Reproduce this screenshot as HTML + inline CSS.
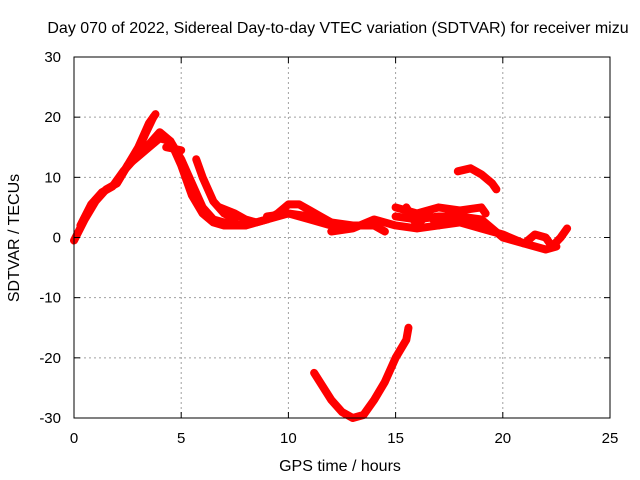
<!DOCTYPE html>
<html><head><meta charset="utf-8"><style>
body{margin:0;background:#fff}
svg{display:block;font-family:"Liberation Sans",sans-serif}
</style></head><body>
<svg id="chart" width="640" height="480" viewBox="0 0 640 480">
<rect width="640" height="480" fill="#fff"/>
<text x="338" y="33" font-size="16" text-anchor="middle">Day 070 of 2022, Sidereal Day-to-day VTEC variation (SDTVAR) for receiver mizu</text>
<text transform="translate(19,238) rotate(-90)" font-size="16" text-anchor="middle">SDTVAR / TECUs</text>
<text x="340" y="471" font-size="16" text-anchor="middle">GPS time / hours</text>
<g id="grid"></g><g id="series"></g><g id="axes"></g>
</svg>
<script>
const xTicks=[0,5,10,15,20,25];
const yTicks=[-30,-20,-10,0,10,20,30];
const trackA=[[0,-0.5],[0.5,3],[1,6],[1.5,8],[2,9],[2.5,12],[3,15],[3.5,19],[3.8,20.5]];
const trackA2=[[0.3,2],[0.8,5.5],[1.3,7.5],[1.8,8.5],[2.3,11],[2.8,13],[3.3,17],[3.7,20]];
const trackB=[[2,9],[2.5,12],[3,14],[3.5,15.5],[4,17.5],[4.5,16],[5,13],[5.5,9],[6,5],[6.5,3],[7,2.5],[8,2],[9,3],[10,4],[11,3],[12,2],[13,2]];
const trackC=[[2.5,12],[3,13.5],[3.5,15],[4,16.5],[4.5,16],[5,12],[5.5,7],[6,4],[6.5,2.5],[7,2],[8,2]];
const trackD=[[4.3,15],[5,14.5]];
const trackE=[[5.7,13],[6,10],[6.5,6],[7,4],[7.5,3]];
const trackF=[[6.8,5],[7.5,4],[8,3],[8.5,2.5],[9,3],[9.5,4],[10,5.5],[10.5,5.5],[11,4.5],[11.5,3.5],[12,2.5]];
const trackG=[[9,3.5],[10,4],[11,3.5],[12,2.5],[13,2],[14,2],[14.5,1]];
const trackH=[[12,1],[13,1.5],[14,3],[15,2],[16,1.5],[17,2],[18,2.5],[19,1.5],[20,0.5],[21,-1],[21.5,0.5],[22,0],[22.3,-1.5],[22.7,0],[23,1.5]];
const trackI=[[15,5],[16,4],[17,5],[18,4.5],[19,5],[19.2,4]];
const trackJ=[[15,3.5],[16,3],[17,3.5],[18,3.5],[19,3],[20,0],[21,-1],[22,-2],[22.5,-1.5]];
const trackK=[[15.5,5],[16,2],[16.5,4],[17,2],[17.5,4],[18,3],[19,2.5]];
const trackL=[[17.9,11],[18.5,11.5],[19,10.5],[19.5,9],[19.7,8]];
const trackM=[[11.2,-22.5],[12,-27],[12.5,-29],[13,-30],[13.5,-29.5],[14,-27],[14.5,-24],[15,-20],[15.5,-17],[15.6,-15]];
const tracks=[trackA,trackA2,trackB,trackC,trackD,trackE,trackF,trackG,trackH,trackI,trackJ,trackK,trackL,trackM];
const X0=74,X1=610,Y0=418,Y1=57;
const xs=v=>X0+(v-0)/25*(X1-X0);
const ys=v=>Y0-(v+30)/60*(Y0-Y1);
const NS="http://www.w3.org/2000/svg";
const grid=document.getElementById('grid'),axes=document.getElementById('axes'),ser=document.getElementById('series');
function mk(tag,attrs,parent){const e=document.createElementNS(NS,tag);for(const k in attrs)e.setAttribute(k,attrs[k]);parent.appendChild(e);return e;}
xTicks.forEach(t=>{
 const x=xs(t);
 if(t>0&&t<25){const g=mk('line',{x1:x,x2:x,y1:Y1,y2:Y0,stroke:'#a0a0a0','stroke-dasharray':'2,3'},grid);
 
 }
 mk('line',{x1:x,x2:x,y1:Y0,y2:Y0-6,stroke:'#000'},axes);
 mk('line',{x1:x,x2:x,y1:Y1,y2:Y1+6,stroke:'#000'},axes);
 const l=mk('text',{x:x,y:Y0+25,'font-size':15,'text-anchor':'middle'},axes);l.textContent=t;
 
 
});
yTicks.forEach(t=>{
 const y=ys(t);
 if(t>-30&&t<30){const g=mk('line',{x1:X0,x2:X1,y1:y,y2:y,stroke:'#a0a0a0','stroke-dasharray':'2,3'},grid);
 
 }
 mk('line',{x1:X0,x2:X0+6,y1:y,y2:y,stroke:'#000'},axes);
 mk('line',{x1:X1,x2:X1-6,y1:y,y2:y,stroke:'#000'},axes);
 const l=mk('text',{x:X0-13,y:y+5,'font-size':15,'text-anchor':'end'},axes);l.textContent=t;
 
 
});
const frame=mk('rect',{x:X0,y:Y1,width:X1-X0,height:Y0-Y1,fill:'none',stroke:'#000'},axes);


tracks.forEach(tr=>{
 const p=mk('polyline',{points:tr.map(d=>xs(d[0])+','+ys(d[1])).join(' '),fill:'none',stroke:'#ff0000','stroke-width':8,'stroke-linejoin':'round','stroke-linecap':'round'},ser);
 
 
});
</script>
</body></html>
